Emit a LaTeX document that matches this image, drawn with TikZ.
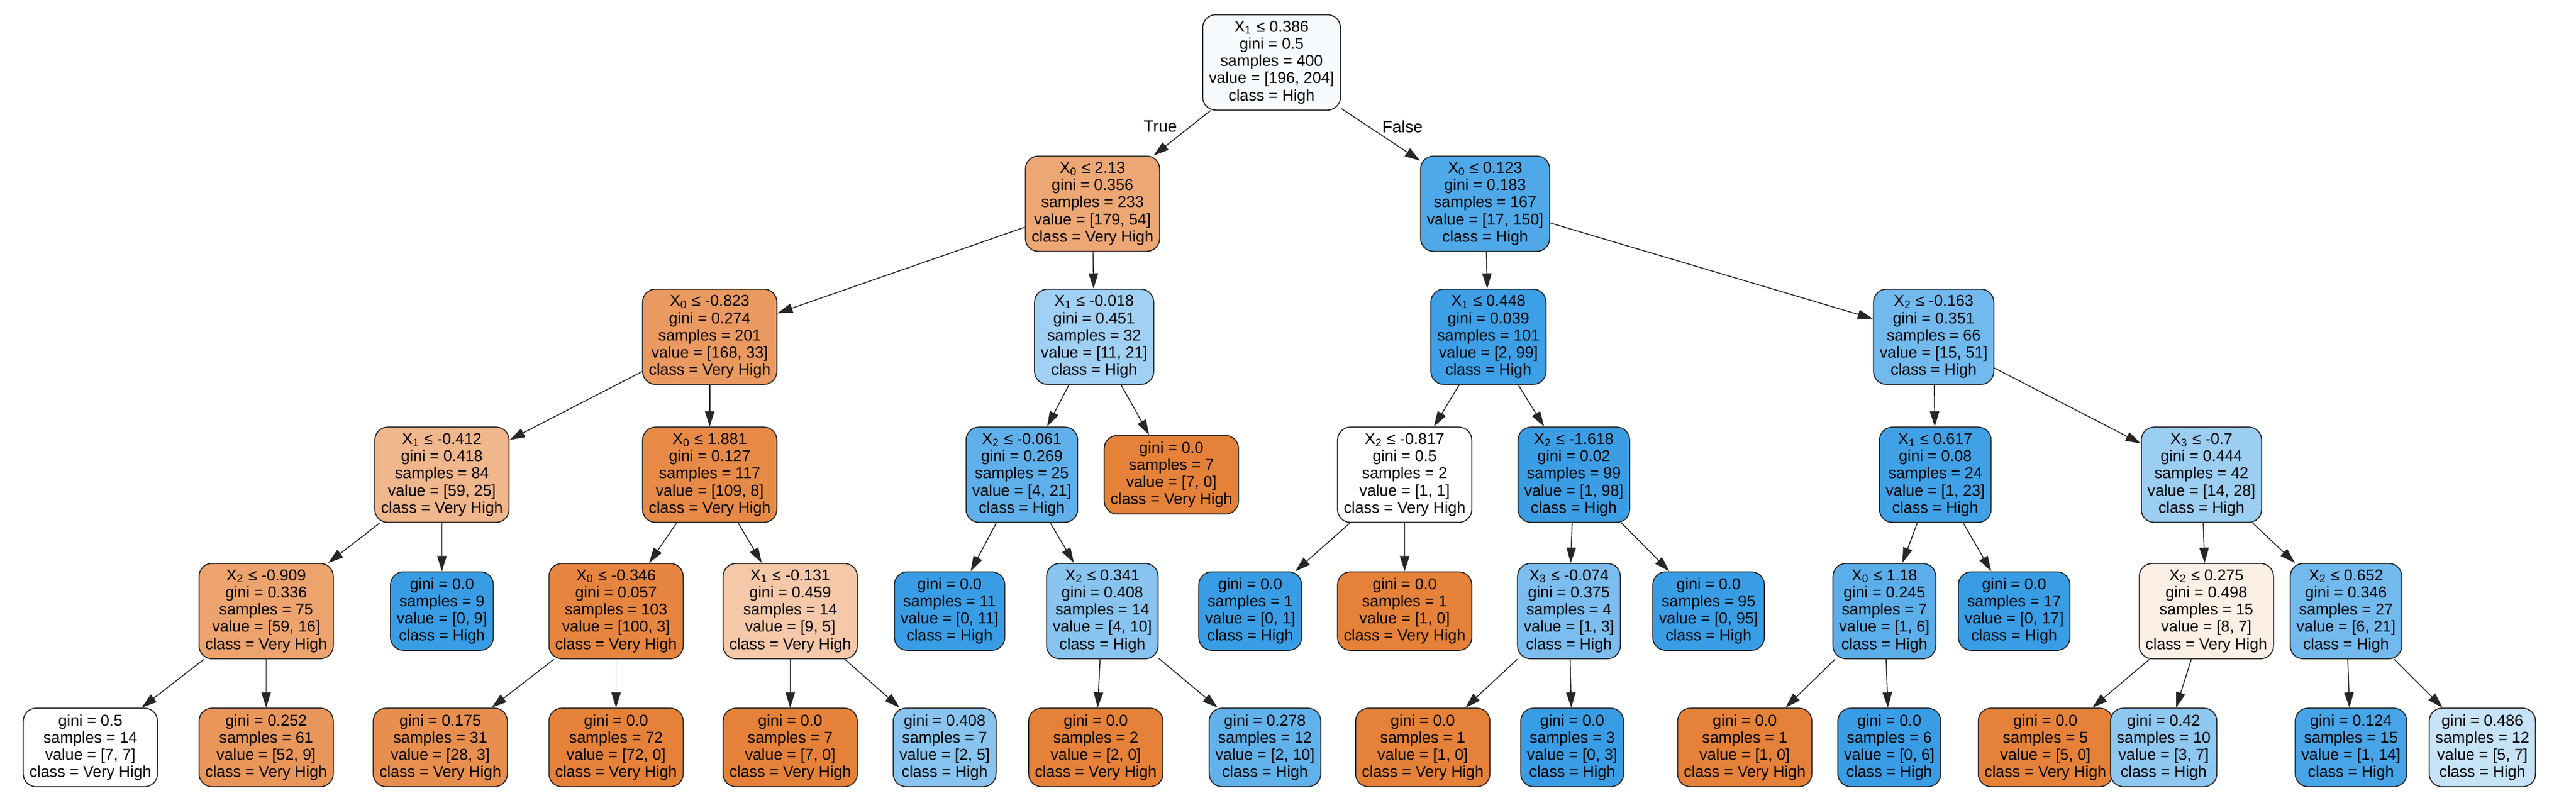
\documentclass[tikz,border=0pt]{standalone}
\usepackage{fontspec}
\setmainfont{Liberation Sans}
\usetikzlibrary{arrows.meta}
\definecolor{vhigh}{HTML}{E58139}
\definecolor{high}{HTML}{399DE5}
\tikzset{
  box/.style={draw=black!85,line width=0.5pt,rounded corners=2.2mm,align=center,
    font=\fontsize{7.6}{8.3}\selectfont,inner xsep=3pt,inner ysep=3pt},
  edge/.style={-{Triangle[length=2.6mm,width=1.6mm]},line width=0.45pt,black!85},
}
\newcommand{\sn}[2]{X\textsubscript{#1} ≤ #2}
\begin{document}
\begin{tikzpicture}[x=0.02793cm,y=-0.02793cm]
\useasboundingbox (0,0) rectangle (1568,485.5);

% depth 0 and 1
\node[box,fill=high!4] (r) at (774,38) {\sn{1}{0.386}\\gini = 0.5\\samples = 400\\value = [196, 204]\\class = High};
\node[box,fill=vhigh!70] (a) at (665,124) {\sn{0}{2.13}\\gini = 0.356\\samples = 233\\value = [179, 54]\\class = Very High};
\node[box,fill=high!89] (b) at (904,124) {\sn{0}{0.123}\\gini = 0.183\\samples = 167\\value = [17, 150]\\class = High};

% depth 2
\node[box,fill=vhigh!80] (aa) at (432,205) {\sn{0}{-0.823}\\gini = 0.274\\samples = 201\\value = [168, 33]\\class = Very High};
\node[box,fill=high!48] (ab) at (666,205) {\sn{1}{-0.018}\\gini = 0.451\\samples = 32\\value = [11, 21]\\class = High};
\node[box,fill=high!98] (ba) at (906,205) {\sn{1}{0.448}\\gini = 0.039\\samples = 101\\value = [2, 99]\\class = High};
\node[box,fill=high!71] (bb) at (1177,205) {\sn{2}{-0.163}\\gini = 0.351\\samples = 66\\value = [15, 51]\\class = High};

% depth 3
\node[box,fill=vhigh!58] (aaa) at (269,289) {\sn{1}{-0.412}\\gini = 0.418\\samples = 84\\value = [59, 25]\\class = Very High};
\node[box,fill=vhigh!93] (aab) at (432,289) {\sn{0}{1.881}\\gini = 0.127\\samples = 117\\value = [109, 8]\\class = Very High};
\node[box,fill=high!81] (aba) at (622,289) {\sn{2}{-0.061}\\gini = 0.269\\samples = 25\\value = [4, 21]\\class = High};
\node[box,fill=vhigh] (abb) at (713,289) {gini = 0.0\\samples = 7\\value = [7, 0]\\class = Very High};
\node[box,fill=white] (baa) at (855,289) {\sn{2}{-0.817}\\gini = 0.5\\samples = 2\\value = [1, 1]\\class = Very High};
\node[box,fill=high!99] (bab) at (958,289) {\sn{2}{-1.618}\\gini = 0.02\\samples = 99\\value = [1, 98]\\class = High};
\node[box,fill=high!96] (bba) at (1178,289) {\sn{1}{0.617}\\gini = 0.08\\samples = 24\\value = [1, 23]\\class = High};
\node[box,fill=high!50] (bbb) at (1340,289) {\sn{3}{-0.7}\\gini = 0.444\\samples = 42\\value = [14, 28]\\class = High};

% depth 4
\node[box,fill=vhigh!73] (c1) at (162,372) {\sn{2}{-0.909}\\gini = 0.336\\samples = 75\\value = [59, 16]\\class = Very High};
\node[box,fill=high] (c2) at (269,372) {gini = 0.0\\samples = 9\\value = [0, 9]\\class = High};
\node[box,fill=vhigh!97] (c3) at (375,372) {\sn{0}{-0.346}\\gini = 0.057\\samples = 103\\value = [100, 3]\\class = Very High};
\node[box,fill=vhigh!44] (c4) at (481,372) {\sn{1}{-0.131}\\gini = 0.459\\samples = 14\\value = [9, 5]\\class = Very High};
\node[box,fill=high] (c5) at (578,372) {gini = 0.0\\samples = 11\\value = [0, 11]\\class = High};
\node[box,fill=high!60] (c6) at (671,372) {\sn{2}{0.341}\\gini = 0.408\\samples = 14\\value = [4, 10]\\class = High};
\node[box,fill=high] (c7) at (761,372) {gini = 0.0\\samples = 1\\value = [0, 1]\\class = High};
\node[box,fill=vhigh] (c8) at (855,372) {gini = 0.0\\samples = 1\\value = [1, 0]\\class = Very High};
\node[box,fill=high!67] (c9) at (955,372) {\sn{3}{-0.074}\\gini = 0.375\\samples = 4\\value = [1, 3]\\class = High};
\node[box,fill=high] (c10) at (1040,372) {gini = 0.0\\samples = 95\\value = [0, 95]\\class = High};
\node[box,fill=high!83] (c11) at (1147,372) {\sn{0}{1.18}\\gini = 0.245\\samples = 7\\value = [1, 6]\\class = High};
\node[box,fill=high] (c12) at (1226,372) {gini = 0.0\\samples = 17\\value = [0, 17]\\class = High};
\node[box,fill=vhigh!13] (c13) at (1343,372) {\sn{2}{0.275}\\gini = 0.498\\samples = 15\\value = [8, 7]\\class = Very High};
\node[box,fill=high!71] (c14) at (1428,372) {\sn{2}{0.652}\\gini = 0.346\\samples = 27\\value = [6, 21]\\class = High};

% depth 5
\node[box,fill=white] (d1) at (55,455) {gini = 0.5\\samples = 14\\value = [7, 7]\\class = Very High};
\node[box,fill=vhigh!83] (d2) at (162,455) {gini = 0.252\\samples = 61\\value = [52, 9]\\class = Very High};
\node[box,fill=vhigh!89] (d3) at (268,455) {gini = 0.175\\samples = 31\\value = [28, 3]\\class = Very High};
\node[box,fill=vhigh] (d4) at (375,455) {gini = 0.0\\samples = 72\\value = [72, 0]\\class = Very High};
\node[box,fill=vhigh] (d5) at (481,455) {gini = 0.0\\samples = 7\\value = [7, 0]\\class = Very High};
\node[box,fill=high!60] (d6) at (575,455) {gini = 0.408\\samples = 7\\value = [2, 5]\\class = High};
\node[box,fill=vhigh] (d7) at (667,455) {gini = 0.0\\samples = 2\\value = [2, 0]\\class = Very High};
\node[box,fill=high!80] (d8) at (770,455) {gini = 0.278\\samples = 12\\value = [2, 10]\\class = High};
\node[box,fill=vhigh] (d9) at (866,455) {gini = 0.0\\samples = 1\\value = [1, 0]\\class = Very High};
\node[box,fill=high] (d10) at (957,455) {gini = 0.0\\samples = 3\\value = [0, 3]\\class = High};
\node[box,fill=vhigh] (d11) at (1062,455) {gini = 0.0\\samples = 1\\value = [1, 0]\\class = Very High};
\node[box,fill=high] (d12) at (1150,455) {gini = 0.0\\samples = 6\\value = [0, 6]\\class = High};
\node[box,fill=vhigh] (d13) at (1245,455) {gini = 0.0\\samples = 5\\value = [5, 0]\\class = Very High};
\node[box,fill=high!57] (d14) at (1317,455) {gini = 0.42\\samples = 10\\value = [3, 7]\\class = High};
\node[box,fill=high!93] (d15) at (1431,455) {gini = 0.124\\samples = 15\\value = [1, 14]\\class = High};
\node[box,fill=high!29] (d16) at (1511,455) {gini = 0.486\\samples = 12\\value = [5, 7]\\class = High};

\begin{scope}[edge]
  \draw (r) -- node[pos=0.35,left=3pt,font=\fontsize{8}{9}\selectfont,text=black] {True} (a);
  \draw (r) -- node[pos=0.35,right=3pt,font=\fontsize{8}{9}\selectfont,text=black] {False} (b);
  \foreach \p/\c in {a/aa,a/ab,b/ba,b/bb,aa/aaa,aa/aab,ab/aba,ab/abb,ba/baa,ba/bab,
      bb/bba,bb/bbb,aaa/c1,aaa/c2,aab/c3,aab/c4,aba/c5,aba/c6,baa/c7,baa/c8,
      bab/c9,bab/c10,bba/c11,bba/c12,bbb/c13,bbb/c14,c1/d1,c1/d2,c3/d3,c3/d4,
      c4/d5,c4/d6,c6/d7,c6/d8,c9/d9,c9/d10,c11/d11,c11/d12,c13/d13,c13/d14,
      c14/d15,c14/d16}
    \draw (\p) -- (\c);
\end{scope}

\end{tikzpicture}
\end{document}
